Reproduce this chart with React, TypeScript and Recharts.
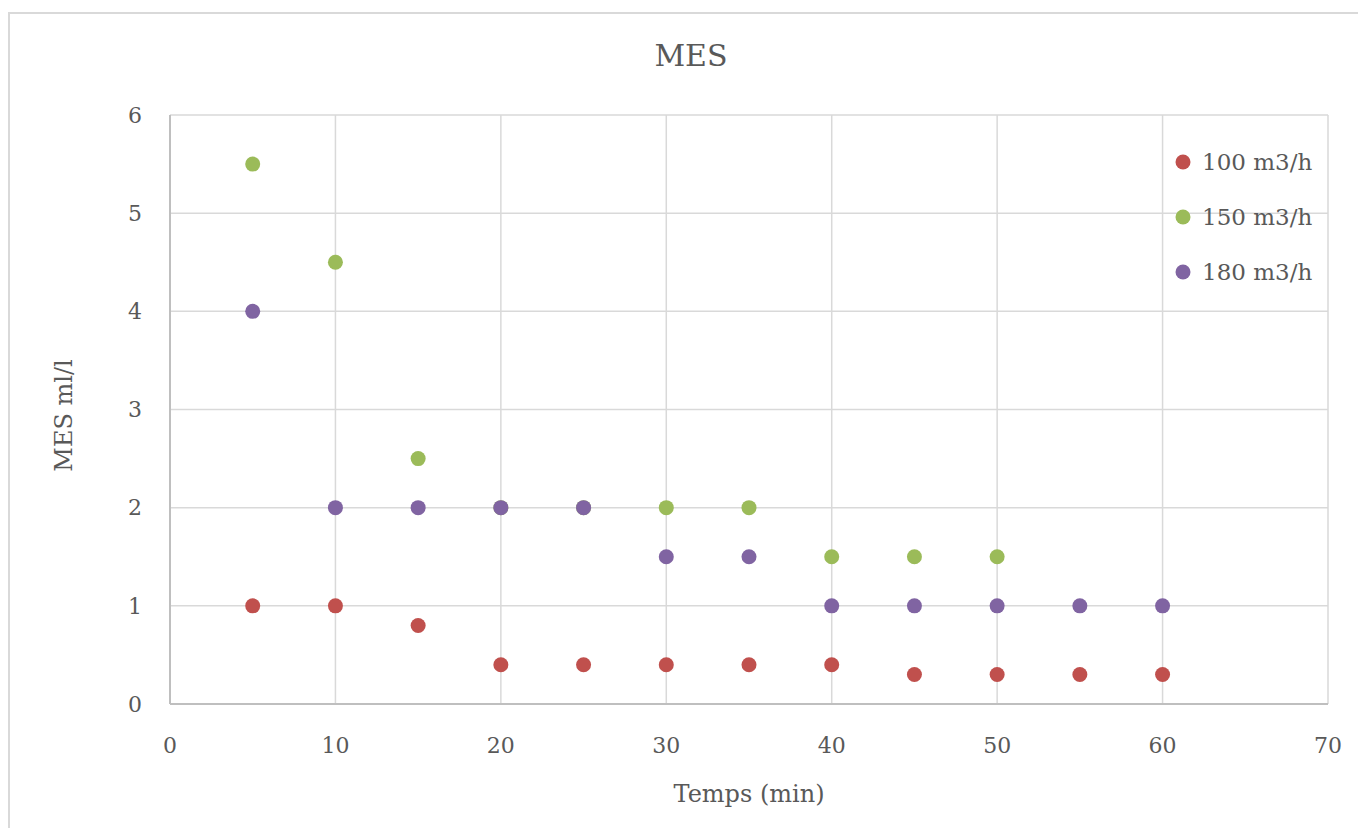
import React from 'react';
import { ScatterChart, Scatter, XAxis, YAxis, CartesianGrid, Legend } from 'recharts';

// Temps (min) for every measurement
const times = [5, 10, 15, 20, 25, 30, 35, 40, 45, 50, 55, 60];

// MES ml/l per flow rate (null = no point)
const mes100 = [1, 1, 0.8, 0.4, 0.4, 0.4, 0.4, 0.4, 0.3, 0.3, 0.3, 0.3];
const mes150 = [5.5, 4.5, 2.5, 2, 2, 2, 2, 1.5, 1.5, 1.5, null, null];
const mes180 = [4, 2, 2, 2, 2, 1.5, 1.5, 1, 1, 1, 1, 1];

const seriesNames = ['100 m3/h', '150 m3/h', '180 m3/h'];
const seriesColors = ['#C0504D', '#9BBB59', '#8064A2'];

const xTicks = [0, 10, 20, 30, 40, 50, 60, 70];
const yTicks = [0, 1, 2, 3, 4, 5, 6];

const toPoints = (vals: (number | null)[]) =>
  times
    .map((t, i) => ({ x: t, y: vals[i] }))
    .filter((p) => p.y !== null);

const FONT = '"DejaVu Serif", serif';
const TEXT = '#595959';

const Dot = (props: any) => {
  const { cx, cy, fill } = props;
  if (cx == null || cy == null) return null;
  return <circle cx={cx} cy={cy} r={7.5} fill={fill} />;
};

const LegendList = (props: any) => {
  const { payload } = props;
  return (
    <div style={{ fontFamily: FONT, fontSize: 23, color: TEXT }}>
      {(payload || []).map((entry: any) => (
        <div key={entry.value} style={{ display: 'flex', alignItems: 'center', height: 55 }}>
          <svg width={16} height={16} style={{ marginRight: 11 }}>
            <circle cx={8} cy={8} r={7.5} fill={entry.color} />
          </svg>
          <span>{entry.value}</span>
        </div>
      ))}
    </div>
  );
};

const App: React.FC = () => {
  const all = [mes100, mes150, mes180].map(toPoints);

  return (
    <div style={{ position: 'relative', width: 1358, height: 820 }}>
      <div
        style={{
          position: 'absolute',
          top: -20,
          left: 1194,
          width: 120,
          textAlign: 'center',
          fontFamily: '"Liberation Sans", Arial, sans-serif',
          fontWeight: 'bold',
          fontSize: 19,
          lineHeight: '19px',
          color: '#000',
        }}
      >
        06/05/2024
      </div>
      <div
        style={{
          position: 'absolute',
          top: 4,
          left: 0,
          width: 1358,
          height: 816,
          boxSizing: 'border-box',
          borderTop: '2px solid #d9d9d9',
          borderLeft: '2px solid #d9d9d9',
        }}
      />
      <div
        style={{
          position: 'absolute',
          top: 33,
          left: 0,
          width: 1366,
          textAlign: 'center',
          fontFamily: FONT,
          fontSize: 30,
          lineHeight: '30px',
          color: TEXT,
        }}
      >
        MES
      </div>
      <div style={{ position: 'absolute', top: 0, left: 0 }}>
        <ScatterChart width={1358} height={820} margin={{ top: 107, right: 38, bottom: 94, left: 82 }}>
          <CartesianGrid stroke="#d9d9d9" strokeWidth={1.5} />
          <XAxis
            type="number"
            dataKey="x"
            height={30}
            domain={[0, 70]}
            ticks={xTicks}
            interval={0}
            tickLine={false}
            tickSize={0}
            tickMargin={33}
            axisLine={{ stroke: '#bfbfbf', strokeWidth: 2 }}
            tick={{ fill: TEXT, fontFamily: FONT, fontSize: 22 }}
            label={{
              content: (p: any) => {
                const vb = p.viewBox || {};
                const cx = vb.x + vb.width / 2;
                return (
                  <text x={cx} y={786} textAnchor="middle" dominantBaseline="central" fill={TEXT} fontFamily={FONT} fontSize={24}>
                    Temps (min)
                  </text>
                );
              },
            }}
          />
          <YAxis
            type="number"
            dataKey="y"
            width={80}
            domain={[0, 6]}
            ticks={yTicks}
            interval={0}
            tickLine={false}
            tickSize={0}
            tickMargin={28}
            axisLine={{ stroke: '#bfbfbf', strokeWidth: 2 }}
            tick={{ fill: TEXT, fontFamily: FONT, fontSize: 22 }}
            label={{
              content: (p: any) => {
                const vb = p.viewBox || {};
                const cy = vb.y + vb.height / 2 + 6;
                return (
                  <text
                    x={56}
                    y={cy}
                    transform={`rotate(-90, 56, ${cy})`}
                    textAnchor="middle"
                    dominantBaseline="central"
                    fill={TEXT}
                    fontFamily={FONT}
                    fontSize={24}
                  >
                    MES ml/l
                  </text>
                );
              },
            }}
          />
          <Legend
            layout="vertical"
            align="center"
            verticalAlign="middle"
            content={<LegendList />}
            wrapperStyle={{ top: 126.5, left: 1167, width: 'auto', height: 'auto' }}
          />
          {all.map((pts, i) => (
            <Scatter
              key={seriesNames[i]}
              name={seriesNames[i]}
              data={pts}
              fill={seriesColors[i]}
              shape={<Dot />}
              isAnimationActive={false}
            />
          ))}
        </ScatterChart>
      </div>
    </div>
  );
};

export default App;
